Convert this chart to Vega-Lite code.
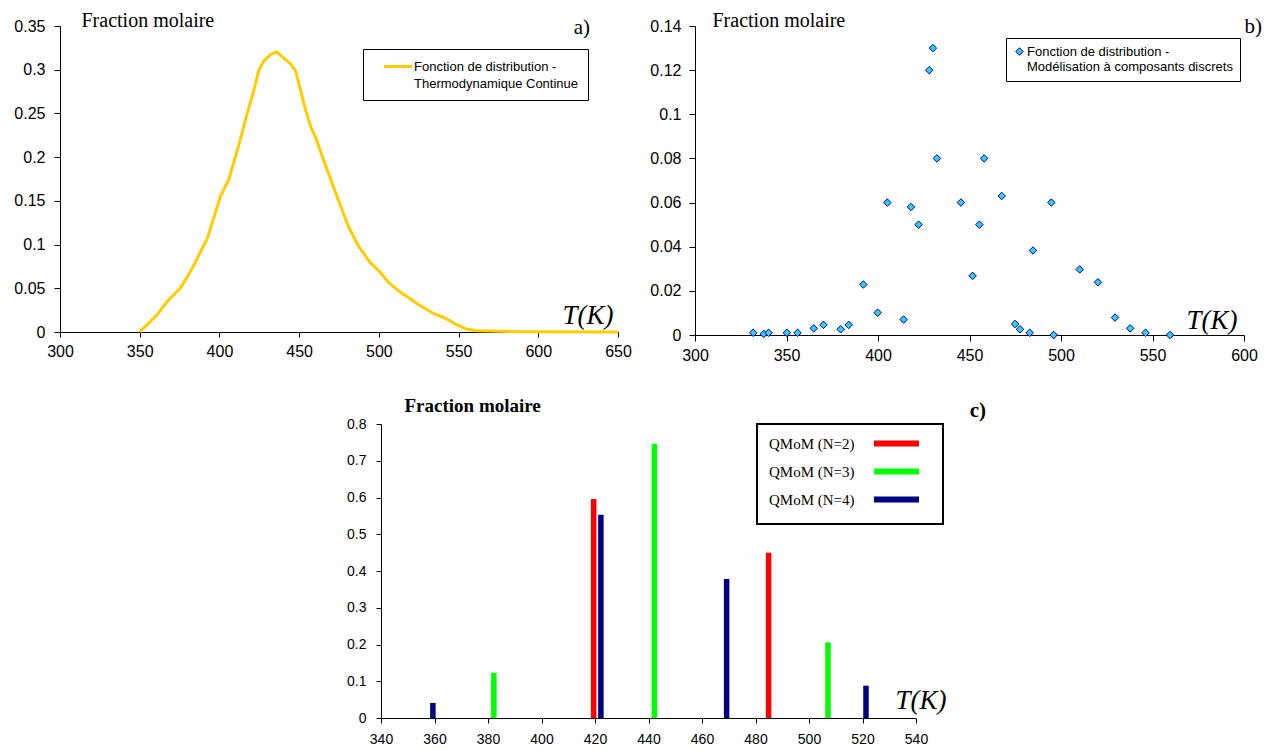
{
  "$schema": "https://vega.github.io/schema/vega-lite/v6.json",
  "background": "white",
  "padding": {"left": 13, "top": 10, "right": 0, "bottom": 0},
  "autosize": {"type": "pad"},
  "spacing": 33,
  "resolve": {"scale": {"color": "independent", "fill": "independent"}, "legend": {"color": "independent", "fill": "independent"}},
  "config": {
    "view": {"stroke": null},
    "axis": {"grid": false, "domainColor": "black", "tickColor": "black", "labelColor": "black", "labelFont": "Liberation Sans", "labelFontSize": 16, "labelFlush": false, "labelOverlap": false, "domainWidth": 1, "tickWidth": 1, "tickSize": 6, "titleColor": "black"},
    "title": {"font": "Liberation Serif", "fontWeight": "normal", "color": "black", "fontSize": 21, "anchor": "end", "frame": "group", "baseline": "alphabetic", "offset": 0}
  },
  "vconcat": [
    {
      "resolve": {"scale": {"color": "independent", "fill": "independent"}, "legend": {"color": "independent", "fill": "independent"}},
      "hconcat": [
        {
          "width": 558, "height": 306,
          "title": {"text": "a)", "dx": -28, "dy": 32},
          "data": {"values": [
            {"T": 350, "f": 0}, {"T": 360.9, "f": 0.0196}, {"T": 367.1, "f": 0.0347}, {"T": 375.6, "f": 0.0506},
            {"T": 379.8, "f": 0.063}, {"T": 384, "f": 0.0763}, {"T": 388.2, "f": 0.092}, {"T": 392.3, "f": 0.1065},
            {"T": 396.5, "f": 0.131}, {"T": 400.7, "f": 0.1556}, {"T": 405.9, "f": 0.1744}, {"T": 410.1, "f": 0.2009},
            {"T": 413.6, "f": 0.2235}, {"T": 417.4, "f": 0.25}, {"T": 421.6, "f": 0.2764}, {"T": 424.7, "f": 0.299},
            {"T": 427.9, "f": 0.3104}, {"T": 432.1, "f": 0.3171}, {"T": 435.8, "f": 0.3205}, {"T": 439.4, "f": 0.3149},
            {"T": 444.6, "f": 0.3066}, {"T": 447.7, "f": 0.299}, {"T": 450.4, "f": 0.28}, {"T": 453, "f": 0.261},
            {"T": 457.2, "f": 0.235}, {"T": 460.9, "f": 0.2197}, {"T": 466.1, "f": 0.193}, {"T": 471.3, "f": 0.167},
            {"T": 480.7, "f": 0.1216}, {"T": 487, "f": 0.0989}, {"T": 494.3, "f": 0.08}, {"T": 500.6, "f": 0.0687},
            {"T": 505.8, "f": 0.0574}, {"T": 513.2, "f": 0.046}, {"T": 523.6, "f": 0.0328}, {"T": 534, "f": 0.0215},
            {"T": 542.4, "f": 0.0151}, {"T": 548.7, "f": 0.0083}, {"T": 555, "f": 0.0034}, {"T": 561.3, "f": 0.0015},
            {"T": 576, "f": 0.0008}, {"T": 597, "f": 0.0002}, {"T": 650, "f": 0}
          ]},
          "mark": {"type": "line", "strokeWidth": 3},
          "encoding": {
            "x": {"field": "T", "type": "quantitative",
                  "scale": {"domain": [300, 650], "nice": false, "zero": false},
                  "axis": {"values": [300, 350, 400, 450, 500, 550, 600, 650], "labelPadding": 6, "tickSize": 5,
                           "title": "T(K)", "titleFont": "Liberation Serif", "titleFontStyle": "italic", "titleFontWeight": "normal", "titleFontSize": 27,
                           "titleAlign": "right", "titleBaseline": "alphabetic", "titleAngle": 0, "titleX": 553, "titleY": -9}},
            "y": {"field": "f", "type": "quantitative",
                  "scale": {"domain": [0, 0.35], "nice": false},
                  "axis": {"values": [0, 0.05, 0.1, 0.15, 0.2, 0.25, 0.3, 0.35], "format": "~g", "labelPadding": 9,
                           "title": "Fraction molaire", "titleFont": "Liberation Serif", "titleFontWeight": "normal", "titleFontSize": 20,
                           "titleAngle": 0, "titleAlign": "left", "titleBaseline": "alphabetic", "titleX": 21, "titleY": 0}},
            "color": {"datum": "Fonction de distribution -|Thermodynamique Continue", "type": "nominal",
                      "scale": {"range": ["#FFCC00"]},
                      "legend": {"title": null, "orient": "none", "legendX": 303, "legendY": 23,
                                 "strokeColor": "black", "fillColor": "white", "padding": 9,
                                 "symbolType": "M-2,0L2,0", "symbolSize": 196, "symbolStrokeWidth": 3,
                                 "symbolOffset": 17.5, "labelOffset": 7.5,
                                 "labelFont": "Liberation Sans", "labelFontSize": 13, "labelColor": "black", "labelLimit": 400,
                                 "labelBaseline": "middle", "labelExpr": "split(datum.label, '|')",
                                 "encode": {"labels": {"update": {"lineHeight": {"value": 17}}}}}}
          }
        },
        {
          "width": 549, "height": 309,
          "title": {"text": "b)", "dx": 18, "dy": 31},
          "data": {"values": [
            {"T": 331.8, "f": 0.001}, {"T": 337.6, "f": 0.0005}, {"T": 340.2, "f": 0.001}, {"T": 350.2, "f": 0.001},
            {"T": 356, "f": 0.001}, {"T": 364.9, "f": 0.003}, {"T": 370.2, "f": 0.0046}, {"T": 379.6, "f": 0.0026},
            {"T": 384, "f": 0.0046}, {"T": 392, "f": 0.0229}, {"T": 399.8, "f": 0.0101}, {"T": 405.1, "f": 0.06},
            {"T": 414, "f": 0.007}, {"T": 418, "f": 0.058}, {"T": 422.2, "f": 0.05}, {"T": 428, "f": 0.12},
            {"T": 430, "f": 0.13}, {"T": 432.2, "f": 0.08}, {"T": 445.3, "f": 0.06}, {"T": 451.7, "f": 0.0268},
            {"T": 455.4, "f": 0.05}, {"T": 458, "f": 0.08}, {"T": 467.6, "f": 0.063}, {"T": 474.9, "f": 0.005},
            {"T": 477.6, "f": 0.0026}, {"T": 482.9, "f": 0.001}, {"T": 484.7, "f": 0.0383}, {"T": 494.7, "f": 0.06},
            {"T": 496, "f": 0}, {"T": 510.2, "f": 0.0297}, {"T": 520.2, "f": 0.0239}, {"T": 529.5, "f": 0.0079},
            {"T": 537.8, "f": 0.003}, {"T": 546.2, "f": 0.001}, {"T": 559.6, "f": 0}
          ]},
          "mark": {"type": "point", "shape": "diamond", "filled": true, "stroke": "#000080", "strokeWidth": 1, "size": 56, "opacity": 1},
          "encoding": {
            "x": {"field": "T", "type": "quantitative",
                  "scale": {"domain": [300, 600], "nice": false, "zero": false},
                  "axis": {"values": [300, 350, 400, 450, 500, 550, 600], "labelPadding": 6, "tickSize": 6,
                           "title": "T(K)", "titleFont": "Liberation Serif", "titleFontStyle": "italic", "titleFontWeight": "normal", "titleFontSize": 27,
                           "titleAlign": "right", "titleBaseline": "alphabetic", "titleAngle": 0, "titleX": 542, "titleY": -7}},
            "y": {"field": "f", "type": "quantitative",
                  "scale": {"domain": [0, 0.14], "nice": false},
                  "axis": {"values": [0, 0.02, 0.04, 0.06, 0.08, 0.1, 0.12, 0.14], "format": "~g", "labelPadding": 8,
                           "title": "Fraction molaire", "titleFont": "Liberation Serif", "titleFontWeight": "normal", "titleFontSize": 20,
                           "titleAngle": 0, "titleAlign": "left", "titleBaseline": "alphabetic", "titleX": 17, "titleY": 0}},
            "fill": {"datum": "Fonction de distribution -|Modélisation à composants discrets", "type": "nominal",
                     "scale": {"range": ["#33CCFF"]},
                     "legend": {"title": null, "orient": "none", "legendX": 311, "legendY": 12,
                                "strokeColor": "black", "fillColor": "white", "padding": 7,
                                "symbolType": "diamond", "symbolSize": 56, "symbolStrokeColor": "#000080", "symbolStrokeWidth": 1,
                                "labelOffset": 1,
                                "labelFont": "Liberation Sans", "labelFontSize": 13, "labelColor": "black", "labelLimit": 400,
                                "labelBaseline": "middle", "labelExpr": "split(datum.label, '|')",
                                "encode": {"labels": {"update": {"lineHeight": {"value": 16}}}}}}
          }
        }
      ],
      "spacing": 17
    },
    {
      "resolve": {"scale": {"color": "independent"}, "legend": {"color": "independent"}},
      "hconcat": [
        {
          "width": 266, "height": 10,
          "data": {"values": []},
          "mark": "point",
          "encoding": {}
        },
        {
          "width": 535, "height": 294,
          "title": {"text": "c)", "fontWeight": "bold", "dx": 70, "dy": 29},
          "data": {"values": [
            {"T": 419.5, "f": 0.596, "s": "QMoM (N=2)"}, {"T": 484.9, "f": 0.45, "s": "QMoM (N=2)"},
            {"T": 382.2, "f": 0.123, "s": "QMoM (N=3)"}, {"T": 442.2, "f": 0.746, "s": "QMoM (N=3)"}, {"T": 507.1, "f": 0.206, "s": "QMoM (N=3)"},
            {"T": 359.4, "f": 0.041, "s": "QMoM (N=4)"}, {"T": 422.2, "f": 0.553, "s": "QMoM (N=4)"}, {"T": 469.2, "f": 0.378, "s": "QMoM (N=4)"}, {"T": 521.3, "f": 0.088, "s": "QMoM (N=4)"}
          ]},
          "mark": {"type": "rule", "strokeWidth": 5.5},
          "encoding": {
            "x": {"field": "T", "type": "quantitative",
                  "scale": {"domain": [340, 540], "nice": false, "zero": false},
                  "axis": {"values": [340, 360, 380, 400, 420, 440, 460, 480, 500, 520, 540], "labelFontSize": 14, "labelPadding": 9, "tickSize": 5,
                           "title": "T(K)", "titleFont": "Liberation Serif", "titleFontStyle": "italic", "titleFontWeight": "normal", "titleFontSize": 27,
                           "titleAlign": "right", "titleBaseline": "alphabetic", "titleAngle": 0, "titleX": 565, "titleY": -10}},
            "y": {"field": "f", "type": "quantitative",
                  "scale": {"domain": [0, 0.8], "nice": false},
                  "axis": {"values": [0, 0.1, 0.2, 0.3, 0.4, 0.5, 0.6, 0.7, 0.8], "format": "~g", "labelFontSize": 14, "labelPadding": 10, "tickSize": 5,
                           "title": "Fraction molaire", "titleFont": "Liberation Serif", "titleFontWeight": "bold", "titleFontSize": 19,
                           "titleAngle": 0, "titleAlign": "left", "titleBaseline": "alphabetic", "titleX": 23, "titleY": -13}},
            "y2": {"datum": 0},
            "color": {"field": "s", "type": "nominal",
                      "scale": {"domain": ["QMoM (N=2)", "QMoM (N=3)", "QMoM (N=4)"], "range": ["#FF0000", "#00FF00", "#000080"]},
                      "legend": {"title": null, "orient": "none", "legendX": 376, "legendY": 0,
                                 "strokeColor": "black", "fillColor": "white", "padding": 12,
                                 "symbolType": "M-5,0L5,0", "symbolSize": 81, "symbolStrokeWidth": 6,
                                 "symbolOffset": 120, "labelOffset": -135, "rowPadding": 3,
                                 "labelFont": "Liberation Serif", "labelFontSize": 15, "labelColor": "black", "labelLimit": 400,
                                 "encode": {"legend": {"update": {"strokeWidth": {"value": 2}}}}}}
          }
        }
      ],
      "spacing": 20
    }
  ]
}
